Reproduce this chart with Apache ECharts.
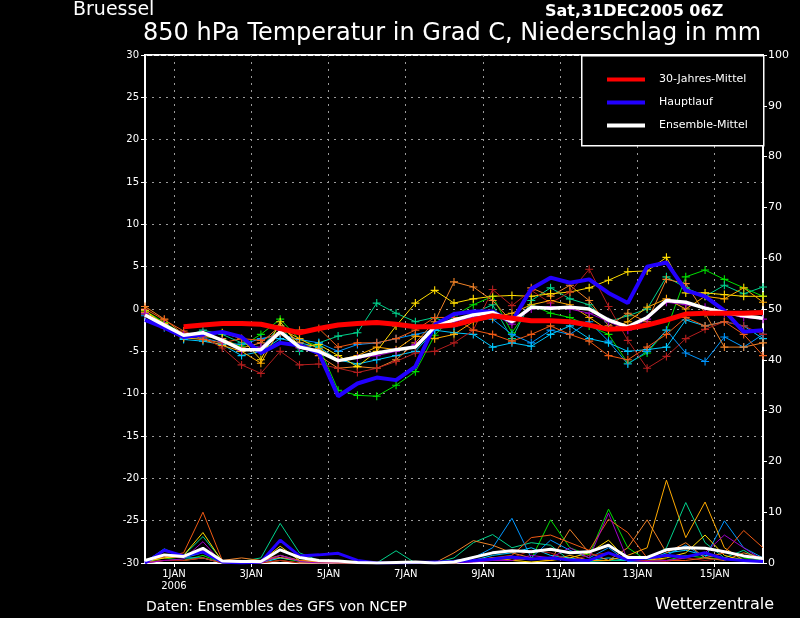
<!DOCTYPE html>
<html>
<head>
<meta charset="utf-8">
<script src="https://cdn.jsdelivr.net/npm/echarts@6/dist/echarts.min.js"></script>
<style>
html,body{margin:0;padding:0;background:#000;}
#chart{width:800px;height:618px;}
</style>
</head>
<body>
<div id="chart"></div>
<script>
// Zeitachse: 31DEC2005 06Z bis 16JAN2006 06Z, Kategorien alle 6 Stunden, Daten alle 12 Stunden
var START = Date.UTC(2005, 11, 31, 6);
var MONTHS = ['JAN','FEB','MAR','APR','MAY','JUN','JUL','AUG','SEP','OCT','NOV','DEC'];
var categories = [];
for (var k = 0; k <= 64; k++) {
  var d = new Date(START + k * 6 * 3600000);
  categories.push(d.getUTCDate() + MONTHS[d.getUTCMonth()] + ' ' + (d.getUTCHours() < 10 ? '0' : '') + d.getUTCHours() + 'Z');
}
var tickLabels = ['1JAN','3JAN','5JAN','7JAN','9JAN','11JAN','13JAN','15JAN'];
var tempTicks = [-30,-25,-20,-15,-10,-5,0,5,10,15,20,25,30];
var precTicks = [0,10,20,30,40,50,60,70,80,90,100];

// 850 hPa Temperatur (Grad C)
var climTemp = [null,null,-2.1,-1.9,-1.7,-1.7,-1.8,-2.3,-2.8,-2.3,-1.9,-1.7,-1.6,-1.8,-2.1,-2.1,-1.9,-1.3,-0.8,-1.1,-1.4,-1.4,-1.5,-1.9,-2.4,-2.3,-1.9,-1.3,-0.6,-0.5,-0.5,-0.5,-0.4];
var mainTemp = [-1.3,-2.2,-3.3,-3.0,-2.7,-3.3,-5.2,-4.0,-4.3,-5.2,-10.3,-8.8,-8.1,-8.4,-6.8,-1.9,-0.6,-0.3,-0.3,-1.5,2.4,3.7,3.1,3.5,1.9,0.7,5.0,5.5,2.2,1.5,-0.2,-2.7,-2.5];
var meanTemp = [-0.7,-1.9,-3.1,-2.8,-3.7,-4.8,-4.8,-2.7,-4.5,-5.0,-6.1,-5.7,-5.2,-4.8,-4.5,-2.1,-1.3,-0.7,-0.4,-1.5,0.2,0.1,0.2,0.0,-1.3,-2.1,-1.0,1.0,0.8,0.1,-0.4,-0.8,-1.1];

// Niederschlag (mm)
var mainPrec = [0,2.5,1.4,2.2,0.2,0,0.2,4.5,1.4,1.6,1.9,0.5,0,0,0.1,0.2,0.3,0.5,0.8,1.2,0.8,1.0,0.6,0.5,2.0,0.6,1.0,1.5,1.2,2.0,0.8,0.5,0.3];
var meanPrec = [0.5,1.6,1.3,2.9,0.4,0.3,0.3,2.6,1.1,0.5,0.4,0.1,0,0.1,0.2,0,0.2,1.1,2.0,2.4,2.2,2.7,2.0,2.2,3.5,1.1,1.1,2.6,3.0,2.9,2.2,1.4,0.9];

// Ensemble-Mitglieder
var memberColors = ['#00e000','#00d28c','#0096ff','#00c8ff','#f08228','#ffdc00','#ffaa00','#b41e1e','#f05a14','#a000c8'];
var memberTemp = [
  [-0.2,-1.6,-3.0,-3.2,-3.6,-4.4,-3.0,-1.2,-3.6,-4.4,-9.6,-10.2,-10.3,-9.0,-7.4,-3.1,-0.8,0.5,1.5,-2.8,0.5,-0.5,-1.0,-2.0,-3.0,-6.4,-5.2,-2.5,3.8,4.6,3.5,2.5,1.5],
  [-0.5,-2.0,-3.3,-2.5,-3.0,-4.0,-4.6,-2.0,-5.0,-4.0,-3.2,-2.8,0.7,-0.5,-1.5,-1.0,-2.0,-0.5,0.5,-3.5,1.0,2.5,1.2,0.5,-1.5,-0.8,0.0,3.8,2.5,1.5,2.8,1.8,2.6],
  [-0.8,-2.2,-3.5,-3.4,-4.0,-4.2,-3.5,-3.0,-3.6,-4.0,-5.0,-4.2,-4.0,-3.5,-3.0,-2.5,-1.8,-1.0,-1.2,-3.0,-4.0,-2.5,-3.0,-1.5,-3.8,-6.5,-5.0,-2.5,-5.2,-6.2,-3.3,-4.5,-3.0],
  [-0.6,-1.8,-3.6,-3.8,-4.2,-5.5,-5.0,-3.5,-4.0,-4.5,-6.0,-6.5,-6.0,-5.5,-5.0,-2.5,-2.8,-3.0,-4.5,-4.0,-4.4,-3.0,-2.0,-3.5,-4.0,-5.0,-4.8,-4.5,-1.3,-2.0,-1.5,-2.0,-3.5],
  [0.3,-1.2,-3.0,-3.2,-3.5,-4.6,-4.0,-2.0,-4.0,-5.5,-7.0,-6.8,-7.0,-6.0,-4.0,-1.5,3.2,2.6,1.0,-1.5,2.5,1.5,2.8,1.0,-2.0,-0.5,-1.5,3.5,3.0,-0.5,-4.5,-4.5,-4.0],
  [-0.2,-1.8,-3.2,-3.0,-2.8,-3.5,-6.0,-1.5,-4.5,-4.2,-5.5,-6.8,-5.0,-2.0,0.7,2.2,0.7,1.2,1.5,1.6,1.5,1.8,2.0,2.5,3.4,4.4,4.5,6.1,1.9,1.9,1.7,1.5,1.5],
  [-0.4,-1.7,-3.4,-3.6,-4.3,-5.0,-6.4,-2.3,-3.5,-4.7,-6.0,-5.5,-4.5,-4.8,-3.2,-3.5,-3.0,-1.5,-1.0,-0.5,0.5,1.0,0.5,-1.0,-2.5,-1.5,0.2,1.2,0.0,1.5,1.2,2.5,0.8],
  [-0.6,-2.1,-2.8,-3.3,-4.6,-6.6,-7.6,-5.0,-6.6,-6.5,-7.0,-7.5,-7.0,-6.2,-5.2,-5.0,-4.0,-2.5,2.3,0.4,2.2,0.7,2.0,4.7,0.3,-3.7,-7.0,-5.6,-3.5,-2.4,-1.5,-2.0,-3.0],
  [0.0,-1.3,-2.6,-3.6,-4.0,-3.5,-3.7,-2.8,-2.5,-2.3,-4.5,-4.0,-4.0,-3.5,-2.5,-1.0,-1.0,-2.5,-3.0,-3.8,-3.0,-2.0,-3.0,-3.8,-5.5,-6.0,-4.5,-3.0,-1.0,-2.0,-1.5,-3.0,-5.5],
  [-0.5,-1.9,-3.1,-2.9,-3.8,-4.9,-4.5,-2.5,-4.6,-5.2,-6.0,-5.8,-5.5,-5.0,-4.2,-2.0,-1.5,-1.0,-0.6,-1.8,0.0,0.3,0.0,-0.5,-1.5,-2.5,-1.2,0.8,0.5,0.2,-0.5,-1.0,-1.2]
];
var memberPrec = [
  [0.2,1.0,0.5,1.5,0,0,0.3,1.0,0.3,0.2,0.1,0,0,0,0,0,0,0.5,0.5,1.0,0.8,8.5,3.0,1.5,10.6,3.0,0.5,0.5,1.5,1.0,0.8,1.0,0.5],
  [0.3,2.5,1.5,5.2,0.5,0.3,1.0,7.8,2.0,0.5,0.3,0,0,2.4,0,0,1.0,4.0,5.6,3.0,4.0,3.5,0.5,0.3,0.5,0.5,0.5,3.0,11.9,4.0,1.0,2.5,0.3],
  [0.2,2.8,1.0,2.0,0,0,0.2,1.5,0.5,0.3,0,0,0,0,0,0,0.5,1.0,3.0,8.8,1.0,4.5,2.5,1.0,3.0,0.3,0.5,1.5,3.5,1.0,8.3,3.0,1.0],
  [0,1.5,1.0,1.0,0,0,0,1.0,0.5,0.5,0,0,0,0,0,0,0,0.5,1.5,2.0,3.0,1.5,1.0,0.5,1.0,0.5,0.5,2.0,2.5,1.5,1.0,0.5,0.3],
  [0.5,1.0,1.2,2.5,0.5,1.0,0.5,1.1,0.5,0.3,0,0,0,0,0,0,2.0,4.4,3.5,2.0,1.0,0.5,6.6,2.0,0.5,3.0,8.5,2.0,4.0,1.0,0.5,2.0,1.0],
  [0.3,1.0,1.5,6.0,0.3,0,0.3,3.3,0.5,0.2,0,0,0,0,0,0,0,0.5,1.0,0.5,0.2,0.5,1.0,2.0,4.5,0.5,0.5,1.0,2.0,5.5,1.5,0.5,0.2],
  [0.2,0.5,0.5,1.0,0,0,0,0.5,0,0,0,0,0,0,0,0,0,0.5,1.0,0.5,0.8,0.5,1.5,0.5,0.5,1.5,3.0,16.3,5.0,12.0,3.0,0.5,0.3],
  [0,0.5,0.5,1.0,0,0,0,0.5,0,0,0,0,0,0,0,0,0,0.3,0.5,1.0,2.5,2.0,0.5,1.5,2.0,0.5,0.5,0.3,1.0,0.5,1.0,0.5,0.5],
  [0.5,1.2,2.0,10.0,0.5,0.3,0.5,1.5,0.5,0.3,0,0,0,0,0,0,0,0.5,1.0,1.5,5.0,5.5,4.0,2.5,8.6,6.0,1.0,0.5,0.5,1.0,2.0,6.4,3.0],
  [0,0.5,0.8,4.2,0,0,0,1.5,0.3,0,0,0,0,0,0,0,0,0.2,0.5,0.5,1.5,1.0,3.0,1.0,9.8,0.5,0.3,0.5,1.0,2.0,5.5,3.0,0.5]
];

var PLUS = 'path://M4.3,0H5.7V4.3H10V5.7H5.7V10H4.3V5.7H0V4.3H4.3Z';
var FONT = 'DejaVu Sans';

function pairs(arr) {//Datenpunkt i liegt auf Kategorie 2*i (12 Stunden)
  return arr.map(function (v, i) { return [2 * i, v]; });
}
function isDayTick(index) {
  var lab = categories[index].split(' ');
  return lab[1] === '00Z' && tickLabels.indexOf(lab[0]) >= 0;
}

var chart = echarts.init(document.getElementById('chart'));
var series = [];

memberTemp.forEach(function (m, j) {
  series.push({
    type: 'line', yAxisIndex: 0, data: pairs(m),
    symbol: PLUS, symbolSize: 8, showAllSymbol: true,
    lineStyle: { width: 1, color: memberColors[j] },
    itemStyle: { color: memberColors[j] },
    silent: true, z: 2
  });
});
memberPrec.forEach(function (m, j) {
  series.push({
    type: 'line', yAxisIndex: 1, data: pairs(m), showSymbol: false,
    lineStyle: { width: 1, color: memberColors[j] },
    silent: true, z: 2
  });
});
series.push(
  { name: 'Hauptlauf', type: 'line', yAxisIndex: 0, data: pairs(mainTemp), showSymbol: false,
    color: '#2200ff', lineStyle: { width: 4, color: '#2200ff' }, z: 3 },
  { name: 'Hauptlauf', type: 'line', yAxisIndex: 1, data: pairs(mainPrec), showSymbol: false,
    color: '#2200ff', lineStyle: { width: 3, color: '#2200ff' }, z: 3 },
  { name: 'Ensemble-Mittel', type: 'line', yAxisIndex: 0, data: pairs(meanTemp), showSymbol: false,
    color: '#ffffff', lineStyle: { width: 3.5, color: '#ffffff' }, z: 4 },
  { name: 'Ensemble-Mittel', type: 'line', yAxisIndex: 1, data: pairs(meanPrec), showSymbol: false,
    color: '#ffffff', lineStyle: { width: 3, color: '#ffffff' }, z: 4 },
  { name: '30-Jahres-Mittel', type: 'line', yAxisIndex: 0, data: pairs(climTemp), showSymbol: false,
    color: '#ff0000', lineStyle: { width: 5, color: '#ff0000' }, z: 5 }
);

var option = {
  backgroundColor: '#000000',
  animation: false,
  textStyle: { fontFamily: FONT },
  grid: { left: 145, right: 37, top: 55, bottom: 55, show: true, borderColor: '#ffffff', borderWidth: 2, backgroundColor: 'transparent' },
  legend: {
    data: ['30-Jahres-Mittel', 'Hauptlauf', 'Ensemble-Mittel'],
    orient: 'vertical', left: 602, top: 69, itemGap: 12,
    icon: 'rect', itemWidth: 38, itemHeight: 4,
    textStyle: { color: '#ffffff', fontSize: 11, fontFamily: FONT, padding: [0, 0, 0, 9] },
    selectedMode: false, z: 20
  },
  xAxis: {
    type: 'category', data: categories, boundaryGap: false,
    axisLine: { onZero: false, lineStyle: { color: '#ffffff', width: 2 } },
    axisTick: { show: true, interval: function (i) { return isDayTick(i); }, length: 4, lineStyle: { color: '#ffffff' } },
    axisLabel: {
      interval: function (i) { return isDayTick(i); },
      color: '#ffffff', fontSize: 10, fontFamily: FONT, margin: 5, lineHeight: 12,
      formatter: function (v) {
        var day = v.split(' ')[0];
        return day === tickLabels[0] ? day + '\n2006' : day;
      }
    },
    splitLine: { show: true, interval: function (i) { return isDayTick(i); }, lineStyle: { color: '#9a9a9a', type: [2, 5], width: 1 } }
  },
  yAxis: [
    {
      type: 'value', min: tempTicks[0], max: tempTicks[tempTicks.length - 1], interval: 5, position: 'left',
      axisLine: { show: true, lineStyle: { color: '#ffffff', width: 2 } },
      axisTick: { show: true, length: 4, lineStyle: { color: '#ffffff' } },
      axisLabel: { color: '#ffffff', fontSize: 10, fontFamily: FONT, margin: 6 },
      splitLine: { show: true, lineStyle: { color: '#9a9a9a', type: [2, 5], width: 1 } }
    },
    {
      type: 'value', min: precTicks[0], max: precTicks[precTicks.length - 1], interval: 10, position: 'right',
      axisLine: { show: true, lineStyle: { color: '#ffffff', width: 2 } },
      axisTick: { show: true, length: 4, lineStyle: { color: '#ffffff' } },
      axisLabel: { color: '#ffffff', fontSize: 11, fontFamily: FONT, margin: 5 },
      splitLine: { show: false }
    }
  ],
  graphic: [
    { type: 'rect', left: 581, top: 55, z: 10, shape: { width: 182, height: 90 },
      style: { fill: '#000000', stroke: '#ffffff', lineWidth: 1.5 } },
    { type: 'text', left: 73, top: 1, style: { text: 'Bruessel', fill: '#ffffff', font: '19px "DejaVu Sans"' } },
    { type: 'text', left: 545, top: 4, style: { text: 'Sat,31DEC2005 06Z', fill: '#ffffff', font: 'bold 16px "DejaVu Sans"' } },
    { type: 'text', left: 143, top: 22, style: { text: '850 hPa Temperatur in Grad C, Niederschlag in mm', fill: '#ffffff', font: '24px "DejaVu Sans"' } },
    { type: 'text', left: 146, top: 600, style: { text: 'Daten: Ensembles des GFS von NCEP', fill: '#ffffff', font: '14px "DejaVu Sans"' } },
    { type: 'text', left: 655, top: 597, style: { text: 'Wetterzentrale', fill: '#ffffff', font: '16px "DejaVu Sans"' } }
  ],
  series: series
};
chart.setOption(option);
</script>
</body>
</html>
